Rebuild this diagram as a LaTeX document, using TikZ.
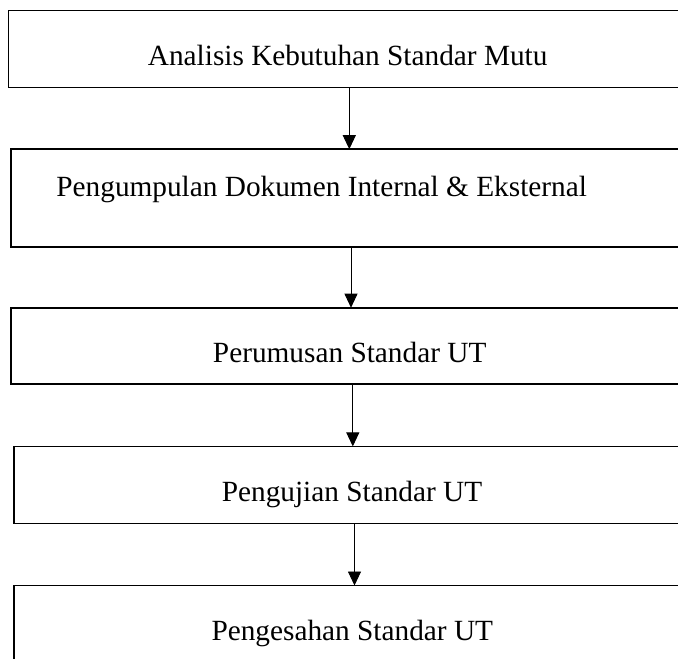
\documentclass[tikz,border=0pt]{standalone}
\usepackage{fontspec}
\setmainfont{Liberation Serif}
\usetikzlibrary{arrows.meta}
\begin{document}
\begin{tikzpicture}[x=1pt,y=-1pt,
  box/.style={draw=black, line width=1.6pt, rectangle, inner sep=0pt, outer sep=0pt, anchor=north west},
  lbl/.style={font=\fontsize{29.3pt}{35pt}\selectfont, inner sep=0pt, text=black},
  arr/.style={line width=0.9pt, -{Triangle[width=13pt,length=14pt]}}]
\useasboundingbox (0,0) rectangle (678,659);
\clip (0,0) rectangle (678,659);
\fill[white] (0,0) rectangle (678,659);
% boxes (they run past the right edge, the last one past the bottom)
\node[box, minimum width=720pt, minimum height=76.9pt] (b1) at (8.6,10.5) {};
\node[box, minimum width=720pt, minimum height=98pt]   (b2) at (10.8,149.2) {};
\node[box, minimum width=720pt, minimum height=76.1pt] (b3) at (10.8,307.7) {};
\node[box, minimum width=720pt, minimum height=76.9pt] (b4) at (13.8,446.4) {};
\node[box, minimum width=720pt, minimum height=110pt]  (b5) at (13.8,585.5) {};
% labels
\node[lbl, anchor=base] (t1) at (347.7,65.2) {Analisis Kebutuhan Standar Mutu};
\node[lbl, anchor=base west] (t2) at (56.2,196) {Pengumpulan Dokumen Internal \& Eksternal};
\node[lbl, anchor=base] (t3) at (349.7,362.3) {Perumusan Standar UT};
\node[lbl, anchor=base] (t4) at (352,501) {Pengujian Standar UT};
\node[lbl, anchor=base] (t5) at (352.3,640) {Pengesahan Standar UT};
% arrow columns
\coordinate (a1) at (349.3,0);
\coordinate (a2) at (351,0);
\coordinate (a3) at (352.8,0);
\coordinate (a4) at (354.5,0);
\draw[arr] (b1.south -| a1) -- (b2.north -| a1);
\draw[arr] (b2.south -| a2) -- (b3.north -| a2);
\draw[arr] (b3.south -| a3) -- (b4.north -| a3);
\draw[arr] (b4.south -| a4) -- (b5.north -| a4);
\end{tikzpicture}
\end{document}
